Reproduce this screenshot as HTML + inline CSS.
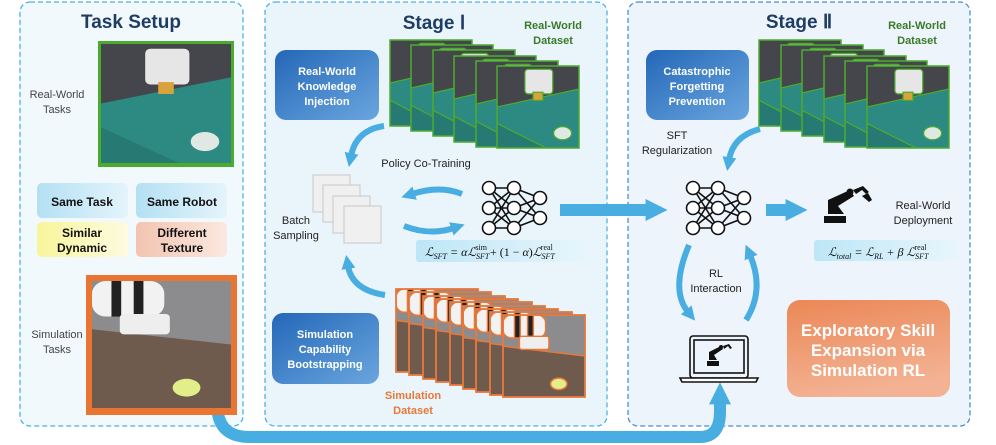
<!DOCTYPE html>
<html><head><meta charset="utf-8"><style>
body{margin:0;background:#fff}
svg{display:block;font-family:"Liberation Sans",sans-serif}
</style></head><body>
<svg width="996" height="445" viewBox="0 0 996 445" xmlns="http://www.w3.org/2000/svg">
<defs>
<linearGradient id="bb" x1="0" y1="0" x2="1" y2="1"><stop offset="0" stop-color="#2467b8"/><stop offset="1" stop-color="#6aa6de"/></linearGradient>
<linearGradient id="ob" x1="0" y1="0" x2="0.3" y2="1"><stop offset="0" stop-color="#eb8756"/><stop offset="1" stop-color="#f3b293"/></linearGradient>
<linearGradient id="lb" x1="0" y1="0" x2="1" y2="0"><stop offset="0" stop-color="#b4e0f4"/><stop offset="1" stop-color="#e4f4fb"/></linearGradient>
<linearGradient id="ly" x1="0" y1="0" x2="1" y2="0"><stop offset="0" stop-color="#f8f59a"/><stop offset="1" stop-color="#fdfbe0"/></linearGradient>
<linearGradient id="lp" x1="0" y1="0" x2="1" y2="0"><stop offset="0" stop-color="#f2c4b0"/><stop offset="1" stop-color="#fbe8e0"/></linearGradient>
<linearGradient id="fb" x1="0" y1="0" x2="1" y2="0"><stop offset="0" stop-color="#bde6f6"/><stop offset="1" stop-color="#e8f6fc"/></linearGradient>
<symbol id="real" viewBox="0 0 100 100" preserveAspectRatio="none">
<rect width="100" height="100" fill="#45464c"/>
<polygon points="0,50 100,28 100,100 0,100" fill="#2c8a82"/>
<polygon points="0,70 60,100 0,100" fill="#277a74"/>
<rect x="34" y="4" width="34" height="30" rx="4" fill="#e6e6e6"/>
<rect x="44" y="32" width="12" height="10" fill="#d9a23a"/>
<ellipse cx="80" cy="82" rx="11" ry="8" fill="#dfe8e2"/>
</symbol>
<symbol id="sim" viewBox="0 0 100 100" preserveAspectRatio="none">
<rect width="100" height="100" fill="#8c8c8e"/>
<polygon points="0,38 100,50 100,100 0,100" fill="#6e5b4d"/>
<rect x="0" y="0" width="52" height="28" rx="10" fill="#f2f2f2"/>
<rect x="14" y="0" width="7" height="28" fill="#222"/>
<rect x="30" y="0" width="7" height="28" fill="#222"/>
<rect x="20" y="26" width="36" height="16" rx="3" fill="#eee"/>
<ellipse cx="68" cy="84" rx="10" ry="7" fill="#e2ee8a"/>
</symbol>
<marker id="ah" viewBox="0 0 10 10" refX="2" refY="5" markerWidth="14" markerHeight="16" markerUnits="userSpaceOnUse" orient="auto"><path d="M0,0 L10,5 L0,10 z" fill="#48ade0"/></marker>
<marker id="ah2" viewBox="0 0 10 10" refX="2" refY="5" markerWidth="22" markerHeight="26" markerUnits="userSpaceOnUse" orient="auto"><path d="M0,0 L10,5 L0,10 z" fill="#48ade0"/></marker>
<g id="nn" stroke="#111" stroke-width="1.6" fill="none">
<path d="M0,0L25,0M0,0L25,20M0,0L25,40M0,20L25,0M0,20L25,20M0,20L25,40M0,40L25,0M0,40L25,20M0,40L25,40M25,0L51,10M25,0L51,30M25,20L51,10M25,20L51,30M25,40L51,10M25,40L51,30"/>
<g fill="#fff"><circle cx="0" cy="0" r="6.5"/><circle cx="0" cy="20" r="6.5"/><circle cx="0" cy="40" r="6.5"/><circle cx="25" cy="0" r="6.5"/><circle cx="25" cy="20" r="6.5"/><circle cx="25" cy="40" r="6.5"/><circle cx="51" cy="10" r="6.5"/><circle cx="51" cy="30" r="6.5"/></g>
</g>
</defs>

<!-- panels -->
<rect x="20" y="2" width="223" height="424" rx="10" fill="#f1f9fd" stroke="#4ab2e2" stroke-width="1.3" stroke-dasharray="5,3"/>
<rect x="265" y="2" width="342" height="424" rx="10" fill="#e9f5fb" stroke="#4ab2e2" stroke-width="1.3" stroke-dasharray="5,3"/>
<rect x="628" y="2" width="342" height="424" rx="10" fill="#edf4fb" stroke="#4a8ed2" stroke-width="1.3" stroke-dasharray="5,3"/>

<!-- bottom arrow -->
<path d="M218,414 Q222,437 250,437 L700,437 Q720,437 720,412 L720,400" fill="none" stroke="#48ade0" stroke-width="12" marker-end="url(#ah2)"/>

<!-- Task setup -->
<text x="131" y="28" font-size="19" font-weight="bold" fill="#1e3d64" text-anchor="middle">Task Setup</text>
<rect x="98" y="41" width="136" height="126" fill="#4caa2e"/>
<use href="#real" x="101" y="44" width="130" height="119"/>
<text x="57" y="98" font-size="11" fill="#444" text-anchor="middle">Real-World</text>
<text x="57" y="113" font-size="11" fill="#444" text-anchor="middle">Tasks</text>
<rect x="37" y="183" width="91" height="35" rx="5" fill="url(#lb)"/>
<rect x="136" y="183" width="91" height="35" rx="5" fill="url(#lb)"/>
<rect x="37" y="222" width="91" height="35" rx="5" fill="url(#ly)"/>
<rect x="136" y="222" width="91" height="35" rx="5" fill="url(#lp)"/>
<g font-size="12" font-weight="bold" fill="#111" text-anchor="middle">
<text x="82" y="206">Same Task</text><text x="182" y="206">Same Robot</text>
<text x="82" y="237">Similar</text><text x="82" y="252">Dynamic</text>
<text x="182" y="237">Different</text><text x="182" y="252">Texture</text></g>
<rect x="86" y="275" width="151" height="140" fill="#e87532"/>
<use href="#sim" x="92" y="281" width="139" height="127"/>
<text x="57" y="338" font-size="11" fill="#444" text-anchor="middle">Simulation</text>
<text x="57" y="353" font-size="11" fill="#444" text-anchor="middle">Tasks</text>

<!-- Stage I -->
<text x="434" y="29" font-size="19" font-weight="bold" fill="#1e3d64" text-anchor="middle">Stage Ⅰ</text>
<text x="553" y="29" font-size="11" font-weight="bold" fill="#3a7a28" text-anchor="middle">Real-World</text>
<text x="553" y="44" font-size="11" font-weight="bold" fill="#3a7a28" text-anchor="middle">Dataset</text>
<rect x="275" y="50" width="104" height="70" rx="11" fill="url(#bb)"/>
<g font-size="11" font-weight="bold" fill="#fff" text-anchor="middle"><text x="327" y="75">Real-World</text><text x="327" y="90">Knowledge</text><text x="327" y="105">Injection</text></g>
<g stroke="#4caa2e" stroke-width="1.5">
<use href="#real" x="390" y="40" width="82" height="86"/><rect x="390" y="40" width="82" height="86" fill="none"/>
<use href="#real" x="411" y="45" width="82" height="86"/><rect x="411" y="45" width="82" height="86" fill="none"/>
<use href="#real" x="433" y="50" width="82" height="86"/><rect x="433" y="50" width="82" height="86" fill="none"/>
<use href="#real" x="454" y="56" width="82" height="86"/><rect x="454" y="56" width="82" height="86" fill="none"/>
<use href="#real" x="476" y="61" width="82" height="86"/><rect x="476" y="61" width="82" height="86" fill="none"/>
<use href="#real" x="497" y="66" width="82" height="82"/><rect x="497" y="66" width="82" height="82" fill="none"/>
</g>
<path d="M384,126 Q356,130 351,156" fill="none" stroke="#48ade0" stroke-width="6" marker-end="url(#ah)"/>
<text x="426" y="167" font-size="11" fill="#222" text-anchor="middle">Policy Co-Training</text>
<g fill="#f0f0f0" stroke="#c8c8c8" stroke-width="1">
<rect x="313" y="175" width="37" height="37"/><rect x="323" y="185" width="37" height="37"/><rect x="333" y="196" width="37" height="37"/><rect x="344" y="206" width="37" height="37"/></g>
<text x="296" y="224" font-size="11" fill="#222" text-anchor="middle">Batch</text>
<text x="296" y="239" font-size="11" fill="#222" text-anchor="middle">Sampling</text>
<path d="M462,194 Q440,185 412,194" fill="none" stroke="#48ade0" stroke-width="6" marker-end="url(#ah)"/>
<path d="M404,226 Q430,236 454,228" fill="none" stroke="#48ade0" stroke-width="6" marker-end="url(#ah)"/>
<use href="#nn" x="489" y="188"/>
<rect x="416" y="240" width="175" height="22" rx="3" fill="url(#fb)"/>
<text x="425" y="256" font-size="12" font-family="Liberation Serif,serif" font-style="italic" fill="#111">ℒ<tspan font-size="8" dy="3">SFT</tspan><tspan dy="-3"> = αℒ</tspan><tspan font-size="8" dy="3">SFT</tspan><tspan font-size="8" dx="-14" dy="-9" font-style="normal">sim</tspan><tspan dy="6" font-style="normal"> + (1 − </tspan><tspan>α</tspan><tspan font-style="normal">)</tspan>ℒ<tspan font-size="8" dy="3">SFT</tspan><tspan font-size="8" dx="-14" dy="-9" font-style="normal">real</tspan></text>
<path d="M385,295 Q352,290 348,266" fill="none" stroke="#48ade0" stroke-width="6" marker-end="url(#ah)"/>
<rect x="272" y="313" width="107" height="71" rx="11" fill="url(#bb)"/>
<g font-size="11" font-weight="bold" fill="#fff" text-anchor="middle"><text x="325" y="338">Simulation</text><text x="325" y="353">Capability</text><text x="325" y="368">Bootstrapping</text></g>
<g stroke="#e8783a" stroke-width="1.8">
<use href="#sim" x="396" y="289" width="82" height="83"/><rect x="396" y="289" width="82" height="83" fill="none"/>
<use href="#sim" x="409" y="292" width="82" height="83"/><rect x="409" y="292" width="82" height="83" fill="none"/>
<use href="#sim" x="423" y="296" width="82" height="83"/><rect x="423" y="296" width="82" height="83" fill="none"/>
<use href="#sim" x="436" y="299" width="82" height="83"/><rect x="436" y="299" width="82" height="83" fill="none"/>
<use href="#sim" x="450" y="302" width="82" height="83"/><rect x="450" y="302" width="82" height="83" fill="none"/>
<use href="#sim" x="463" y="306" width="82" height="83"/><rect x="463" y="306" width="82" height="83" fill="none"/>
<use href="#sim" x="476" y="309" width="82" height="83"/><rect x="476" y="309" width="82" height="83" fill="none"/>
<use href="#sim" x="490" y="312" width="82" height="83"/><rect x="490" y="312" width="82" height="83" fill="none"/>
<use href="#sim" x="503" y="315" width="82" height="82"/><rect x="503" y="315" width="82" height="82" fill="none"/>
</g>
<text x="413" y="399" font-size="11" font-weight="bold" fill="#e8783a" text-anchor="middle">Simulation</text>
<text x="413" y="414" font-size="11" font-weight="bold" fill="#e8783a" text-anchor="middle">Dataset</text>

<!-- center arrow -->
<path d="M560,210 L650,210" fill="none" stroke="#48ade0" stroke-width="12" marker-end="url(#ah2)"/>

<!-- Stage II -->
<text x="799" y="28" font-size="19" font-weight="bold" fill="#1e3d64" text-anchor="middle">Stage Ⅱ</text>
<text x="917" y="29" font-size="11" font-weight="bold" fill="#3a7a28" text-anchor="middle">Real-World</text>
<text x="917" y="44" font-size="11" font-weight="bold" fill="#3a7a28" text-anchor="middle">Dataset</text>
<rect x="646" y="50" width="103" height="70" rx="11" fill="url(#bb)"/>
<g font-size="11" font-weight="bold" fill="#fff" text-anchor="middle"><text x="697" y="75">Catastrophic</text><text x="697" y="90">Forgetting</text><text x="697" y="105">Prevention</text></g>
<g stroke="#4caa2e" stroke-width="1.5">
<use href="#real" x="759" y="40" width="82" height="86"/><rect x="759" y="40" width="82" height="86" fill="none"/>
<use href="#real" x="781" y="45" width="82" height="86"/><rect x="781" y="45" width="82" height="86" fill="none"/>
<use href="#real" x="802" y="50" width="82" height="86"/><rect x="802" y="50" width="82" height="86" fill="none"/>
<use href="#real" x="824" y="56" width="82" height="86"/><rect x="824" y="56" width="82" height="86" fill="none"/>
<use href="#real" x="845" y="61" width="82" height="86"/><rect x="845" y="61" width="82" height="86" fill="none"/>
<use href="#real" x="867" y="66" width="82" height="82"/><rect x="867" y="66" width="82" height="82" fill="none"/>
</g>
<text x="677" y="139" font-size="11" fill="#222" text-anchor="middle">SFT</text>
<text x="677" y="154" font-size="11" fill="#222" text-anchor="middle">Regularization</text>
<path d="M760,129 Q733,136 729,160" fill="none" stroke="#48ade0" stroke-width="6" marker-end="url(#ah)"/>
<use href="#nn" x="693" y="188"/>
<path d="M766,210 L790,210" fill="none" stroke="#48ade0" stroke-width="12" marker-end="url(#ah2)"/>
<g fill="#111">
<rect x="824" y="216" width="22" height="7"/>
<path d="M828,214 L828,200 L850,190 L854,196 L838,206 L844,214z"/>
<circle cx="850" cy="192" r="3.5"/>
<path d="M853,190 L863,186 L869,192 L866,194 L862,190 L856,194z"/>
<path d="M862,196 L868,193 L872,200 L869,202z"/>
</g>
<text x="923" y="209" font-size="11" fill="#222" text-anchor="middle">Real-World</text>
<text x="923" y="224" font-size="11" fill="#222" text-anchor="middle">Deployment</text>
<rect x="814" y="240" width="144" height="21" rx="3" fill="url(#fb)"/>
<text x="828" y="256" font-size="12" font-family="Liberation Serif,serif" font-style="italic" fill="#111">ℒ<tspan font-size="8" dy="3">total</tspan><tspan dy="-3"> = ℒ</tspan><tspan font-size="8" dy="3">RL</tspan><tspan dy="-3"> + β ℒ</tspan><tspan font-size="8" dy="3">SFT</tspan><tspan font-size="8" dx="-14" dy="-9" font-style="normal">real</tspan></text>
<path d="M689,245 Q670,290 688,312" fill="none" stroke="#48ade0" stroke-width="6" marker-end="url(#ah)"/>
<path d="M746,320 Q765,290 750,255" fill="none" stroke="#48ade0" stroke-width="6" marker-end="url(#ah)"/>
<text x="716" y="277" font-size="11" fill="#222" text-anchor="middle">RL</text>
<text x="716" y="292" font-size="11" fill="#222" text-anchor="middle">Interaction</text>
<g fill="none" stroke="#111" stroke-width="1.6">
<rect x="690" y="336" width="58" height="42" rx="3"/><rect x="694" y="340" width="50" height="33"/>
<path d="M680,378 L758,378 L756,382 L682,382z" fill="#fff"/></g>
<g fill="#111">
<rect x="707" y="361" width="12" height="5"/>
<path d="M709,360 L709,352 L721,346 L723,349 L714,355 L717,360z"/><circle cx="721" cy="347" r="2"/>
<path d="M723,346 L729,344 L732,348 L730,349 L728,346 L724,349z"/></g>
<rect x="787" y="300" width="163" height="97" rx="13" fill="url(#ob)"/>
<g font-size="17" font-weight="bold" fill="#fff" text-anchor="middle"><text x="868" y="336">Exploratory Skill</text><text x="868" y="356">Expansion via</text><text x="868" y="376">Simulation RL</text></g>
</svg>
</body></html>
